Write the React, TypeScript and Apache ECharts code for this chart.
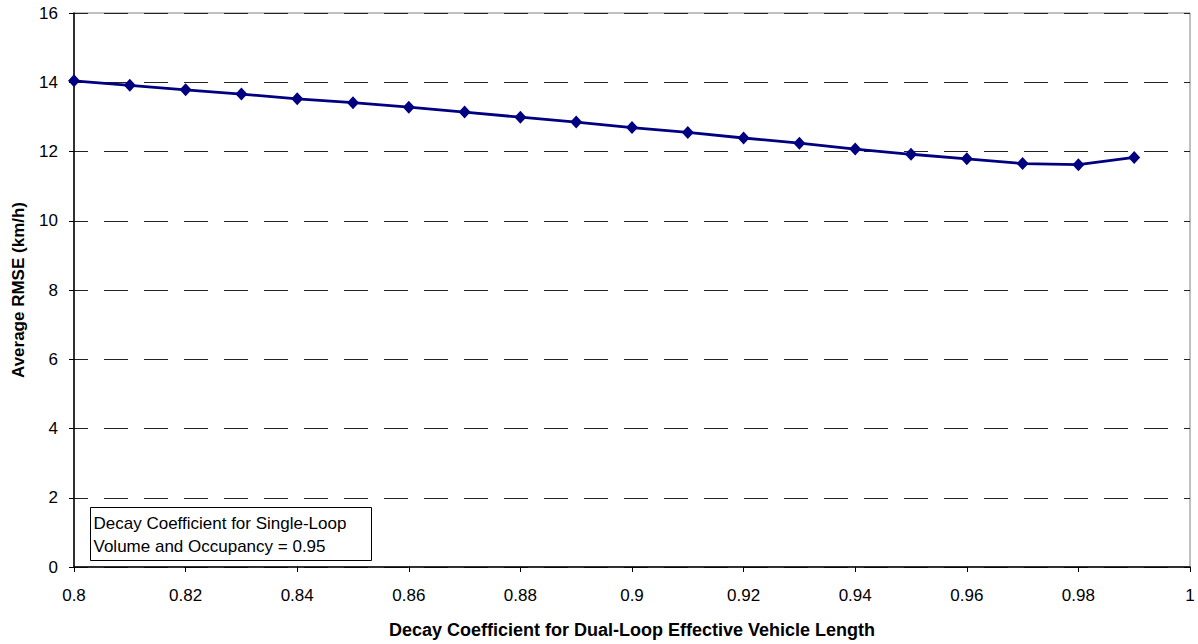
import React, { useEffect, useRef } from "react";
import * as echarts from "echarts";

const xValues = [0.8, 0.81, 0.82, 0.83, 0.84, 0.85, 0.86, 0.87, 0.88, 0.89, 0.9, 0.91, 0.92, 0.93, 0.94, 0.95, 0.96, 0.97, 0.98, 0.99];
const rmseValues = [14.04, 13.91, 13.78, 13.66, 13.52, 13.41, 13.28, 13.14, 12.99, 12.85, 12.69, 12.55, 12.39, 12.24, 12.07, 11.92, 11.79, 11.65, 11.62, 11.83];
const xAxisTitle = "Decay Coefficient for Dual-Loop Effective Vehicle Length";
const yAxisTitle = "Average RMSE (km/h)";
const noteLines = ["Decay Coefficient for Single-Loop", "Volume and Occupancy = 0.95"];

const FONT = "'Liberation Sans', Arial, sans-serif";

export default function App() {
  const ref = useRef<HTMLDivElement>(null);
  useEffect(() => {
    if (!ref.current) return;
    const chart = echarts.init(ref.current, null, { renderer: "svg" });
    chart.setOption({
      animation: false,
      backgroundColor: "#ffffff",
      textStyle: { fontFamily: FONT },
      grid: {
        left: 74,
        right: 8,
        top: 13,
        bottom: 76,
        show: true,
        borderColor: "#808080",
        borderWidth: 1,
        backgroundColor: "transparent",
      },
      xAxis: {
        type: "value",
        min: 0.8,
        max: 1,
        interval: 0.02,
        name: xAxisTitle,
        nameLocation: "middle",
        nameGap: 54,
        nameTextStyle: { fontFamily: FONT, fontSize: 18, fontWeight: "bold", color: "#000" },
        axisLine: { show: true, onZero: false, lineStyle: { color: "#000", width: 1.5 } },
        axisTick: { show: true, length: 5, inside: false, lineStyle: { color: "#000" } },
        axisLabel: {
          margin: 20,
          fontFamily: FONT,
          fontSize: 17,
          color: "#000",
          formatter: (v: number) => String(parseFloat(v.toFixed(2))),
        },
        splitLine: { show: false },
      },
      yAxis: {
        type: "value",
        min: 0,
        max: 16,
        interval: 2,
        name: yAxisTitle,
        nameLocation: "middle",
        nameGap: 47,
        nameTextStyle: { fontFamily: FONT, fontSize: 17, fontWeight: "bold", color: "#000" },
        axisLine: { show: true, lineStyle: { color: "#000", width: 1.5 } },
        axisTick: { show: true, length: 5, lineStyle: { color: "#000" } },
        axisLabel: { margin: 16, fontFamily: FONT, fontSize: 17, color: "#000" },
        splitLine: { show: true, lineStyle: { color: "#222", width: 1, type: [24, 16], dashOffset: 10 } },
      },
      series: [
        {
          type: "line",
          data: xValues.map((x, i) => [x, rmseValues[i]]),
          symbol: "diamond",
          symbolSize: [12, 13],
          itemStyle: { color: "#000080" },
          lineStyle: { color: "#000080", width: 2.8 },
        },
      ],
      graphic: [
        {
          type: "group",
          left: 90,
          top: 507,
          children: [
            {
              type: "rect",
              shape: { x: 0, y: 0, width: 281, height: 53 },
              style: { fill: "#fff", stroke: "#000", lineWidth: 1 },
            },
            {
              type: "text",
              x: 3,
              y: 4,
              style: {
                text: noteLines.join("\n"),
                font: `17px ${FONT}`,
                fill: "#000",
                lineHeight: 23,
              },
            },
          ],
        },
      ],
    });
    return () => chart.dispose();
  }, []);
  return <div ref={ref} style={{ position: "fixed", left: 0, top: 0, width: 1198, height: 644 }} />;
}
